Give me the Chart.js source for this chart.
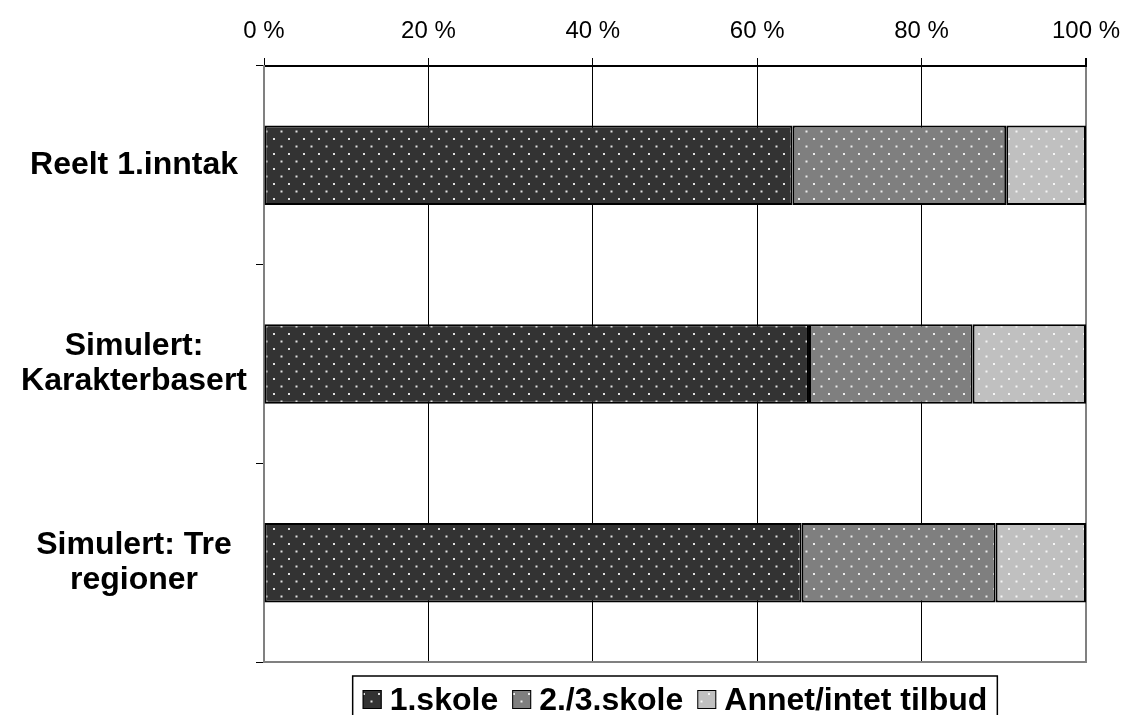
<!DOCTYPE html>
<html>
<head>
<meta charset="utf-8">
<script src="https://cdn.jsdelivr.net/npm/chart.js@4"></script>
<style>
  html, body { margin: 0; padding: 0; background: #fff; }
  #wrap { width: 1126px; height: 715px; }
</style>
</head>
<body>
<div id="wrap"><canvas id="myChart" width="1126" height="715"></canvas></div>
<script>
// Data
const categories = ['Reelt 1.inntak', ['Simulert:', 'Karakterbasert'], ['Simulert: Tre', 'regioner']];
const seriesNames = ['1.skole', '2./3.skole', 'Annet/intet tilbud'];
const firstSchool = [64.3, 66.3, 65.4];
const secondThird = [26.0, 19.9, 23.6];
const otherNone = [9.7, 13.8, 11.0];
const xTicks = [0, 20, 40, 60, 80, 100];

const FONT = "'Liberation Sans', Arial, sans-serif";

// dotted fill like the original
function dots(base) {
    const c = document.createElement('canvas');
    c.width = 15; c.height = 15;
    const g = c.getContext('2d');
    g.fillStyle = base;
    g.fillRect(0, 0, 15, 15);
    g.fillStyle = 'rgba(255,255,255,0.85)';
    g.fillRect(3, 3, 2, 2);
    g.fillRect(10.5, 10.5, 2, 2);
    return g.createPattern(c, 'repeat');
}
const fills = [dots('#333333'), dots('#7f7f7f'), dots('#c0c0c0')];

// legend drawn in a box, centred under the plot
const boxedLegend = {
    id: 'boxedLegend',
    afterDraw(chart) {
        const ctx = chart.ctx;
        const area = chart.chartArea;
        ctx.save();
        ctx.font = 'bold 32px ' + FONT;
        const sq = 19, gapBox = 8, gapItem = 14, pad = 10;
        const items = chart.data.datasets.map((d) => ({ label: d.label, fill: d.backgroundColor, w: ctx.measureText(d.label).width }));
        let total = pad * 2;
        items.forEach((it, i) => { total += sq + gapBox + it.w + (i ? gapItem : 0); });
        let x = (area.left + area.right) / 2 - total / 2;
        const top = 676;
        ctx.strokeStyle = '#000';
        ctx.lineWidth = 1.5;
        ctx.strokeRect(x, top, total, 60);
        x += pad;
        items.forEach((it) => {
            ctx.fillStyle = it.fill;
            ctx.fillRect(x, 690, sq, sq);
            ctx.lineWidth = 1;
            ctx.strokeStyle = '#000';
            ctx.strokeRect(x + 0.5, 690.5, sq - 1, sq - 1);
            x += sq + gapBox;
            ctx.fillStyle = '#000';
            ctx.textBaseline = 'alphabetic';
            ctx.textAlign = 'left';
            ctx.fillText(it.label, x, 710);
            x += it.w + gapItem;
        });
        ctx.restore();
    }
};

const ctx = document.getElementById('myChart').getContext('2d');
const myChart = new Chart(ctx, {
    type: 'bar',
    data: {
        labels: categories,
        datasets: [firstSchool, secondThird, otherNone].map((vals, i) => ({
            label: seriesNames[i],
            data: vals,
            backgroundColor: fills[i],
            borderColor: '#000',
            borderWidth: 2,
            borderSkipped: false,
            barPercentage: 0.4,
            categoryPercentage: 1,
        })),
    },
    options: {
        indexAxis: 'y',
        responsive: false,
        animation: false,
        layout: { padding: { top: 0, left: 0, right: 40, bottom: 45 } },
        plugins: {
            legend: { display: false },
            tooltip: { enabled: false },
        },
        scales: {
            x: {
                position: 'top',
                stacked: true,
                min: 0,
                max: 100,
                afterBuildTicks: (scale) => { scale.ticks = xTicks.map(v => ({ value: v })); },
                afterFit: (scale) => {
                    scale.height = 66;
                    scale.paddingLeft = 0;
                    scale.paddingRight = 0;
                },
                ticks: {
                    color: '#000',
                    font: { family: FONT, size: 24 },
                    padding: 12,
                    maxRotation: 0,
                    callback: (v) => v + ' %',
                },
                grid: {
                    color: (c) => c.tick && c.tick.value === 100 ? '#808080' : '#000',
                    lineWidth: (c) => c.tick && c.tick.value === 100 ? 2 : 1,
                    tickLength: 8,
                    tickColor: '#000',
                },
                border: { color: '#000', width: 2 },
            },
            xb: {
                position: 'bottom',
                axis: 'x',
                min: 0,
                max: 100,
                ticks: { display: false },
                grid: { display: false },
                border: { color: '#808080', width: 2 },
            },
            y: {
                stacked: true,
                afterFit: (scale) => { scale.width = 264; },
                ticks: {
                    color: '#000',
                    crossAlign: 'center',
                    padding: 9,
                    font: { family: FONT, size: 32, weight: 'bold', lineHeight: 1.1 },
                },
                grid: {
                    drawOnChartArea: false,
                    tickLength: 8,
                    color: '#000',
                    lineWidth: 1,
                },
                border: { color: '#808080', width: 2 },
            },
        },
    },
    plugins: [boxedLegend],
});
</script>
</body>
</html>
